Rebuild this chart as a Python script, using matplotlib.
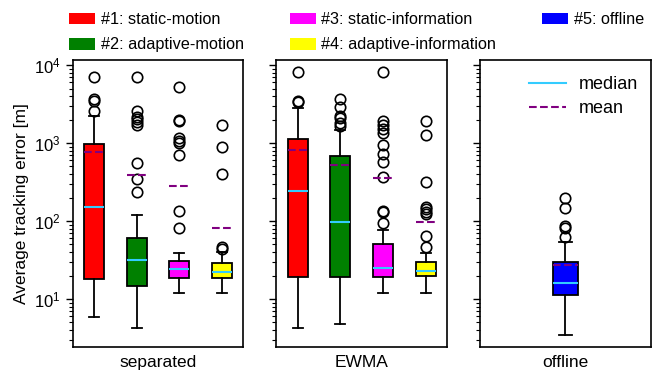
import matplotlib
matplotlib.use('Agg')
import matplotlib.pyplot as plt
from matplotlib.patches import Patch
from matplotlib.lines import Line2D

plt.rcParams['font.family'] = ['Liberation Sans', 'DejaVu Sans']

# method labels and colours
methods = ['#1: static-motion', '#2: adaptive-motion', '#3: static-information',
           '#4: adaptive-information', '#5: offline']
colors = ['red', 'green', 'magenta', 'yellow', 'blue']
panels = ['separated', 'EWMA', 'offline']

# box statistics (metres)
# separated
sep_whislo = [5.8, 4.25, 12, 12]
sep_q1 = [18, 14.8, 18.8, 18.8]
sep_med = [150, 31.6, 24, 22]
sep_q3 = [962, 61, 31, 29.3]
sep_whishi = [2240, 119, 39.3, 40]
sep_mean = [767, 386, 279, 80.5]
sep_fliers = [
    [6950, 3630, 3460, 2570],
    [6950, 2570, 2170, 2010, 1870, 1700, 550, 345, 237],
    [5270, 1970, 1900, 1150, 1060, 990, 700, 136, 82],
    [1690, 900, 400, 46.8, 43.8],
]
# EWMA
ewma_whislo = [4.3, 4.75, 12, 12]
ewma_q1 = [19, 19, 19.3, 19.5]
ewma_med = [245, 96, 24.8, 23]
ewma_q3 = [1125, 687, 50, 30]
ewma_whishi = [2790, 1470, 76.7, 39]
ewma_mean = [810, 522, 352, 98]
ewma_fliers = [
    [8060, 3480, 3330],
    [3630, 2920, 2220, 2070, 1790, 1650],
    [8060, 1910, 1700, 1510, 1330, 940, 723, 566, 370, 136, 132, 95],
    [1910, 1270, 319, 152, 143, 132, 123, 64, 46.8],
]
# offline
off_whislo = [3.5]
off_q1 = [11.2]
off_med = [15.9]
off_q3 = [29.5]
off_whishi = [54]
off_mean = [27.3]
off_fliers = [[195, 146, 87, 82.4, 63]]


def make_stats(whislo, q1, med, q3, whishi, mean, fliers):
    return [dict(whislo=a, q1=b, med=c, q3=d, whishi=e, mean=f, fliers=g)
            for a, b, c, d, e, f, g in zip(whislo, q1, med, q3, whishi, mean, fliers)]


groups = [
    (make_stats(sep_whislo, sep_q1, sep_med, sep_q3, sep_whishi, sep_mean, sep_fliers), colors[:4]),
    (make_stats(ewma_whislo, ewma_q1, ewma_med, ewma_q3, ewma_whishi, ewma_mean, ewma_fliers), colors[:4]),
    (make_stats(off_whislo, off_q1, off_med, off_q3, off_whishi, off_mean, off_fliers), colors[4:]),
]

fig, axes = plt.subplots(1, 3, figsize=(6.52, 3.71), dpi=100, sharey=True)
fig.subplots_adjust(left=0.1115, right=0.998, wspace=0.195, top=0.839, bottom=0.065)

for ax, name, (stats, cols) in zip(axes, panels, groups):
    n = len(stats)
    width = 0.47 if n > 1 else 0.15
    bp = ax.bxp(stats, positions=range(1, n + 1), widths=width, patch_artist=True,
                showmeans=True, meanline=True, capwidths=width * 0.5,
                boxprops=dict(edgecolor='black', linewidth=1.3),
                whiskerprops=dict(color='black', linewidth=1.3),
                capprops=dict(color='black', linewidth=1.3),
                medianprops=dict(color='#33ccff', linewidth=1.5),
                meanprops=dict(color='purple', linestyle='--', linewidth=1.5),
                flierprops=dict(marker='o', markerfacecolor='none', markeredgecolor='black',
                                markersize=7.5, markeredgewidth=1.2))
    for patch, c in zip(bp['boxes'], cols):
        patch.set_facecolor(c)
    ax.set_xlim(0.5, n + 0.5)
    ax.set_xticks([])
    ax.set_xlabel(name, fontsize=12.5, labelpad=5.5)
    for s in ax.spines.values():
        s.set_linewidth(1.2)
    ax.tick_params(axis='y', which='both', direction='out', labelsize=12)
    ax.tick_params(axis='y', which='major', length=5, width=1)
    ax.tick_params(axis='y', which='minor', length=3, width=0.8)

axes[0].set_yscale('log')
axes[0].set_ylim(2.43, 11700)
axes[0].set_ylabel('Average tracking error [m]', fontsize=12.5)

axes[2].legend([Line2D([], [], color='#33ccff', lw=1.5),
                Line2D([], [], color='purple', lw=1.5, ls='--')],
               ['median', 'mean'], loc='upper right', frameon=False,
               prop=dict(size=13), bbox_to_anchor=(0.9785, 0.7956),
               bbox_transform=fig.transFigure, borderaxespad=0, borderpad=0,
               handlelength=2.05, handletextpad=0.7, labelspacing=0.39)

handles = [Patch(facecolor=c) for c in colors]
fig.legend(handles, methods, loc='upper left', bbox_to_anchor=(69 / 652, 0.967), ncol=3,
           frameon=False, prop=dict(size=11.7),
           borderaxespad=0, borderpad=0, handlelength=1.6, handleheight=0.74,
           columnspacing=2.82, labelspacing=0.62, handletextpad=0.35)

fig.savefig('out.png', dpi=100)
